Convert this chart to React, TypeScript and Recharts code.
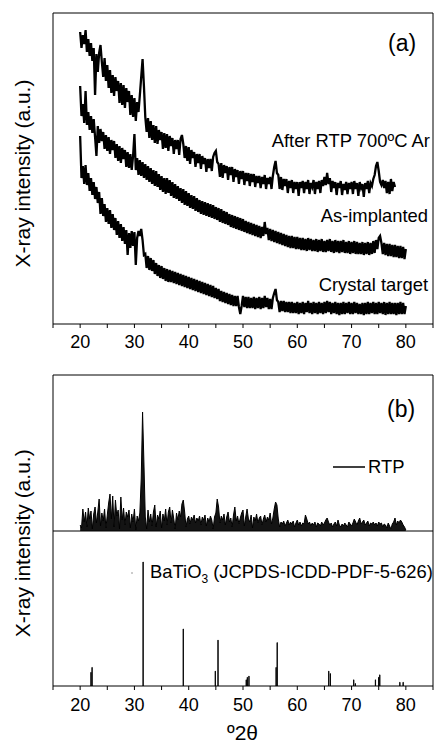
import React from 'react';
import { ComposedChart, LineChart, Line, Area, Bar, XAxis, YAxis, ReferenceLine } from 'recharts';

const FONT = '"Liberation Sans", Arial, Helvetica, sans-serif';

// angle grid for the scans: START + i * STEP (degrees 2θ)
const START = 20;
const STEP = 0.25;

// panel (a) traces (arbitrary units, offset for display)
const afterRTP = [
  292, 276, 289, 280, 294, 272, 285, 268,
  281, 263, 276, 229, 270, 252, 271, 279,
  262, 247, 266, 243, 259, 236, 254, 231,
  249, 228, 247, 233, 243, 221, 241, 219,
  239, 216, 236, 222, 233, 209, 229, 207,
  226, 203, 222, 212, 229, 247, 265, 238,
  207, 192, 206, 186, 203, 184, 199, 181,
  198, 180, 194, 184, 192, 175, 191, 176,
  190, 173, 188, 178, 186, 170, 184, 175,
  184, 169, 185, 189, 180, 166, 178, 163,
  177, 160, 174, 166, 172, 157, 170, 161,
  170, 155, 168, 160, 166, 152, 165, 156,
  165, 153, 167, 171, 173, 162, 160, 147,
  161, 146, 159, 151, 158, 144, 157, 149,
  157, 142, 155, 147, 154, 140, 153, 145,
  153, 139, 151, 143, 151, 138, 150, 142,
  150, 137, 148, 141, 148, 136, 147, 140,
  149, 135, 146, 140, 147, 135, 148, 157,
  163, 151, 149, 135, 147, 134, 145, 138,
  145, 131, 143, 136, 144, 131, 142, 135,
  142, 128, 142, 136, 143, 131, 142, 135,
  144, 130, 141, 137, 144, 130, 142, 135,
  143, 131, 144, 138, 147, 139, 151, 140,
  146, 132, 143, 136, 142, 129, 141, 136,
  143, 129, 140, 134, 142, 130, 141, 135,
  142, 130, 143, 135, 141, 128, 142, 136,
  140, 127, 141, 135, 143, 131, 141, 138,
  145, 149, 158, 162, 153, 142, 139, 144,
  136, 143, 131, 142, 130, 145, 133, 142,
  137,
];

const asImplanted = [
  238, 208, 220, 201, 233, 199, 212, 194,
  208, 191, 205, 187, 168, 198, 181, 195,
  183, 192, 175, 189, 173, 187, 170, 184,
  174, 183, 166, 180, 163, 178, 161, 176,
  165, 174, 157, 172, 156, 170, 154, 168,
  190, 154, 166, 149, 164, 148, 162, 146,
  160, 144, 158, 142, 156, 140, 154, 138,
  153, 137, 150, 134, 148, 132, 146, 130,
  146, 131, 144, 128, 142, 126, 140, 125,
  138, 123, 136, 121, 135, 119, 133, 118,
  131, 116, 129, 115, 128, 113, 126, 112,
  124, 110, 123, 109, 122, 108, 121, 107,
  120, 106, 119, 105, 117, 104, 116, 102,
  115, 101, 113, 100, 112, 99, 110, 97,
  109, 96, 108, 95, 107, 94, 106, 93,
  105, 92, 103, 91, 102, 90, 101, 89,
  100, 88, 99, 87, 98, 86, 97, 88,
  102, 90, 96, 84, 95, 83, 94, 82,
  93, 81, 92, 80, 91, 79, 90, 78,
  89, 77, 88, 76, 88, 76, 87, 75,
  87, 75, 86, 74, 86, 74, 85, 73,
  86, 74, 85, 73, 84, 73, 85, 72,
  84, 73, 85, 72, 83, 72, 84, 73,
  85, 72, 83, 71, 84, 72, 83, 71,
  83, 72, 84, 71, 82, 71, 83, 70,
  82, 71, 83, 70, 82, 70, 81, 70,
  82, 69, 81, 70, 82, 69, 81, 70,
  83, 71, 84, 75, 86, 88, 81, 70,
  81, 69, 80, 68, 80, 68, 79, 67,
  79, 67, 78, 66, 78, 66, 77, 65,
  75,
];

const crystalTarget = [
  188, 146, 158, 140, 159, 139, 151, 133,
  146, 129, 142, 125, 137, 121, 132, 110,
  126, 108, 120, 102, 116, 100, 114, 96,
  110, 94, 106, 89, 103, 86, 100, 83,
  97, 80, 94, 69, 91, 76, 93, 78,
  92, 59, 86, 93, 88, 95, 84, 69,
  70, 56, 68, 54, 66, 53, 64, 50,
  61, 48, 59, 46, 58, 45, 56, 43,
  55, 42, 54, 42, 53, 41, 52, 40,
  51, 39, 50, 38, 49, 37, 48, 36,
  47, 35, 46, 34, 45, 33, 44, 32,
  43, 31, 42, 30, 41, 29, 40, 28,
  39, 27, 38, 26, 36, 25, 35, 23,
  33, 22, 32, 21, 31, 20, 30, 19,
  29, 18, 28, 18, 28, 17, 10, 18,
  28, 17, 27, 16, 27, 16, 26, 16,
  27, 15, 26, 16, 27, 15, 26, 16,
  28, 17, 26, 15, 25, 15, 26, 31,
  35, 24, 22, 12, 23, 13, 23, 12,
  22, 12, 22, 11, 22, 11, 21, 11,
  22, 10, 21, 11, 22, 10, 21, 12,
  23, 11, 21, 10, 22, 11, 21, 10,
  22, 11, 21, 10, 22, 11, 23, 12,
  22, 10, 21, 11, 22, 10, 21, 9,
  21, 10, 22, 10, 21, 11, 22, 10,
  21, 10, 22, 11, 21, 10, 20, 10,
  21, 9, 21, 10, 22, 10, 21, 11,
  22, 10, 21, 10, 22, 11, 21, 10,
  22, 9, 21, 10, 22, 10, 21, 10,
  21, 9, 21, 10, 22, 10, 21, 10,
  18,
];

// panel (b) RTP scan (background-subtracted)
const rtpScan = [
  6, 3, 22, 9, 19, 4, 23, 12,
  20, 2, 17, 24, 8, 19, 32, 5,
  18, 10, 22, 3, 16, 28, 37, 12,
  35, 4, 31, 15, 21, 2, 34, 11,
  23, 6, 19, 14, 21, 3, 17, 9,
  22, 1, 15, 10, 18, 52, 119, 68,
  14, 2, 21, 9, 17, 5, 19, 26,
  4, 16, 12, 20, 3, 17, 10, 22,
  6, 19, 24, 8, 21, 12, 2, 18,
  11, 20, 14, 27, 31, 19, 4, 12,
  15, 7, 14, 11, 16, 8, 13, 10,
  15, 6, 14, 11, 16, 5, 13, 9,
  15, 11, 2, 14, 18, 32, 24, 8,
  15, 11, 17, 6, 14, 19, 9, 13,
  4, 16, 24, 10, 15, 7, 13, 18,
  21, 5, 14, 22, 12, 9, 16, 3,
  14, 10, 17, 8, 13, 15, 6, 12,
  16, 9, 14, 11, 18, 7, 13, 22,
  29, 26, 12, 4, 9, 7, 10, 5,
  8, 11, 6, 9, 7, 10, 4, 8,
  11, 6, 9, 5, 8, 7, 16, 12,
  7, 9, 5, 8, 6, 9, 4, 8,
  7, 5, 9, 6, 8, 11, 13, 9,
  6, 8, 4, 7, 9, 5, 11, 6,
  4, 7, 5, 8, 6, 4, 9, 7,
  5, 8, 12, 9, 6, 10, 13, 7,
  9, 11, 6, 8, 10, 5, 8, 7,
  9, 6, 8, 5, 9, 7, 8, 4,
  7, 6, 3, 8, 5, 2, 7, 9,
  13, 6, 10, 8, 11, 9, 6, 4,
  1,
];

// BaTiO3 reference pattern (JCPDS-ICDD-PDF-5-626)
const stickAngles = [22.0, 22.2, 31.6, 39.0, 44.9, 45.4, 50.6, 50.8, 51.1, 56.1, 56.3, 65.8, 66.1, 70.4, 70.7, 74.4, 75.0, 75.2, 78.9, 79.5];
const stickIntensity = [11, 15, 100, 46, 12, 37, 5, 7, 8, 15, 35, 12, 10, 5, 2, 5, 7, 9, 3, 3];

const xTicks = [15, 20, 25, 30, 35, 40, 45, 50, 55, 60, 65, 70, 75, 80, 85];
const xLabels = [20, 30, 40, 50, 60, 70, 80];

const toRows = (vals: number[]) => vals.map((v, i) => ({ x: START + i * STEP, y: v }));
const rows1 = toRows(afterRTP);
const rows2 = toRows(asImplanted);
const rows3 = toRows(crystalTarget);
const rtpRows = toRows(rtpScan);
const stickRows = stickAngles.map((a, i) => ({ x: a, h: stickIntensity[i] }));

const fmt = (v: number) => (xLabels.includes(v) ? String(v) : '');
const tickStyle = { fill: '#000', fontSize: 18, fontFamily: FONT };
const TRACE_W = 2.3;

export default function App() {
  return (
    <div style={{ position: 'absolute', left: 0, top: 0, width: 435, height: 746, background: '#fff' }}>
      <div style={{ position: 'absolute', left: 0, top: 0 }}>
        <LineChart width={435} height={360} margin={{ top: 12, right: 1, bottom: 0, left: 0 }}>
          <XAxis xAxisId="b" type="number" dataKey="x" domain={[15, 85]} ticks={xTicks} interval={0}
            tickFormatter={fmt} height={36} stroke="#000" tickSize={4} tickMargin={7} tick={tickStyle} allowDataOverflow />
          <XAxis xAxisId="t" orientation="top" type="number" dataKey="x" domain={[15, 85]} height={1}
            tick={false} tickLine={false} stroke="#000" allowDataOverflow />
          <YAxis yAxisId="l" type="number" domain={[0, 311]} width={53} tick={false} tickLine={false} stroke="#000" allowDataOverflow />
          <YAxis yAxisId="r" orientation="right" type="number" domain={[0, 311]} width={1} tick={false} tickLine={false} stroke="#000" allowDataOverflow />
          <Line xAxisId="b" yAxisId="l" data={rows1} dataKey="y" stroke="#000" strokeWidth={TRACE_W} strokeLinejoin="miter" dot={false} isAnimationActive={false} />
          <Line xAxisId="b" yAxisId="l" data={rows2} dataKey="y" stroke="#000" strokeWidth={TRACE_W} strokeLinejoin="miter" dot={false} isAnimationActive={false} />
          <Line xAxisId="b" yAxisId="l" data={rows3} dataKey="y" stroke="#000" strokeWidth={TRACE_W} strokeLinejoin="miter" dot={false} isAnimationActive={false} />
          <text x={388} y={51} fontSize={23} fontFamily={FONT} fill="#000">(a)</text>
          <text x={430} y={147} fontSize={18.4} fontFamily={FONT} fill="#000" textAnchor="end">After RTP 700ºC Ar</text>
          <text x={428} y={222} fontSize={18.4} fontFamily={FONT} fill="#000" textAnchor="end">As-implanted</text>
          <text x={428} y={291} fontSize={18.4} fontFamily={FONT} fill="#000" textAnchor="end">Crystal target</text>
          <text transform="translate(30,173.5) rotate(-90)" textAnchor="middle" fontSize={21} fontFamily={FONT} fill="#000">X-ray intensity (a.u.)</text>
        </LineChart>
      </div>
      <div style={{ position: 'absolute', left: 0, top: 360 }}>
        <ComposedChart width={435} height={386} data={stickRows} margin={{ top: 14, right: 1, bottom: 30, left: 0 }}>
          <XAxis xAxisId="b" type="number" dataKey="x" domain={[15, 85]} ticks={xTicks} interval={0}
            tickFormatter={fmt} height={30} stroke="#000" tickSize={4} tickMargin={8} tick={tickStyle} allowDataOverflow />
          <XAxis xAxisId="t" orientation="top" type="number" dataKey="x" domain={[15, 85]} height={1}
            tick={false} tickLine={false} stroke="#000" allowDataOverflow />
          <YAxis yAxisId="l" type="number" domain={[0, 1]} width={53} tick={false} tickLine={false} stroke="#000" allowDataOverflow />
          <YAxis yAxisId="r" orientation="right" type="number" domain={[0, 1]} width={1} tick={false} tickLine={false} stroke="#000" allowDataOverflow />
          <YAxis yAxisId="rtp" hide type="number" domain={[-155, 156]} allowDataOverflow />
          <YAxis yAxisId="stick" hide type="number" domain={[0, 250.8]} allowDataOverflow />
          <Bar xAxisId="b" yAxisId="stick" dataKey="h" fill="#000" stroke="#000" strokeWidth={0.9} barSize={1.2} isAnimationActive={false} />
          <Area xAxisId="b" yAxisId="rtp" data={rtpRows} dataKey="y" baseValue={0} stroke="#000" strokeWidth={1} fill="#000" fillOpacity={0.92} dot={false} isAnimationActive={false} />
          <ReferenceLine xAxisId="b" yAxisId="rtp" y={0} stroke="#000" strokeWidth={1} />
          <text x={387} y={57} fontSize={23} fontFamily={FONT} fill="#000">(b)</text>
          <line x1={333} y1={107} x2={365} y2={107} stroke="#000" strokeWidth={1.5} />
          <text x={368} y={113} fontSize={18.4} fontFamily={FONT} fill="#000">RTP</text>
          <rect x={131.5} y={212} width={1} height={2} fill="#999" />
          <text x={150} y={218} fontSize={18.4} fontFamily={FONT} fill="#000">
            BaTiO<tspan fontSize={12} dy={5}>3</tspan><tspan dy={-5}> (JCPDS-ICDD-PDF-5-626)</tspan>
          </text>
          <text x={242.5} y={380} fontSize={21} fontFamily={FONT} fill="#000" textAnchor="middle">º2θ</text>
          <text transform="translate(30,183.3) rotate(-90)" textAnchor="middle" fontSize={21} fontFamily={FONT} fill="#000">X-ray intensity (a.u.)</text>
        </ComposedChart>
      </div>
    </div>
  );
}
